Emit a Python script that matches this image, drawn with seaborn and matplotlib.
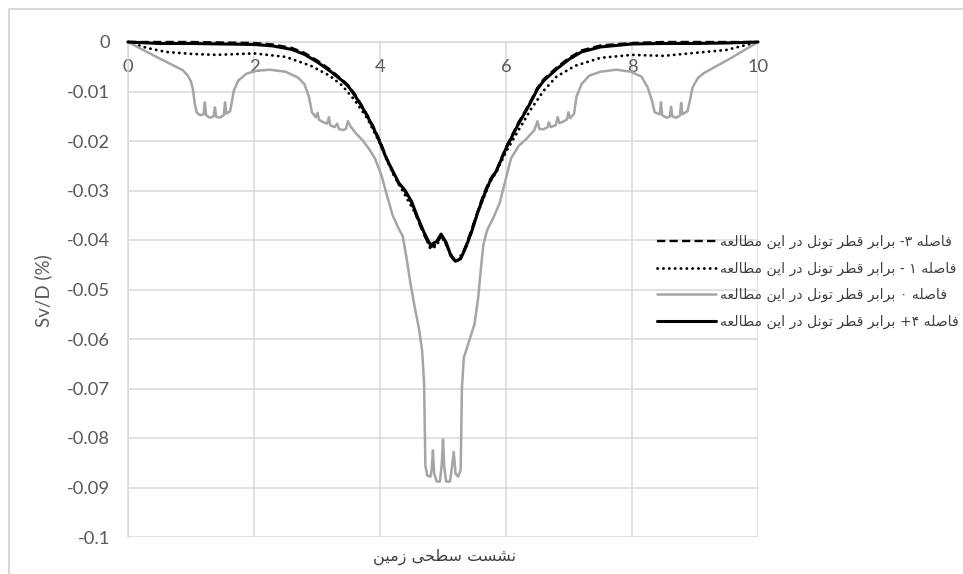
import matplotlib
matplotlib.use('Agg')
import matplotlib.pyplot as plt
import matplotlib.patches as patches
import seaborn as sns

## --- dados (x = distancia, y = Sv/D em %)

# fila de +4 diametros (linha preta continua)
x_mais4 = [0, 0.5, 1.0, 1.5, 2.0, 2.3, 2.6, 2.8, 3.0, 3.2,
           3.4, 3.5, 3.6, 3.7, 3.8, 3.9, 4.0, 4.1, 4.2, 4.3,
           4.4, 4.5, 4.6, 4.7, 4.8, 4.9, 4.97, 5.05, 5.12, 5.2,
           5.28, 5.36, 5.45, 5.55, 5.65, 5.75, 5.85, 6.0, 6.1, 6.2,
           6.3, 6.4, 6.5, 6.6, 6.8, 7.0, 7.2, 7.5, 8.0, 8.5,
           9.0, 9.5, 10]
y_mais4 = [0, -0.0003, -0.0003, -0.0004, -0.0005, -0.0008, -0.0015, -0.0025, -0.004, -0.0058,
           -0.0078, -0.009, -0.0108, -0.0128, -0.015, -0.0175, -0.0203, -0.0235, -0.026, -0.0285,
           -0.030, -0.0322, -0.0355, -0.0385, -0.041, -0.0403, -0.0388, -0.0405, -0.043, -0.0443,
           -0.0438, -0.0415, -0.0385, -0.0345, -0.031, -0.028, -0.026, -0.0215, -0.019, -0.0165,
           -0.0143, -0.012, -0.0095, -0.0078, -0.0055, -0.0035, -0.002, -0.001, -0.0004, -0.0003,
           -0.0003, -0.0002, 0]

# fila de -3 diametros (tracejada)
x_menos3 = x_mais4
y_menos3 = [0, 0, 0, -0.0001, -0.0002, -0.0005, -0.0012, -0.0022, -0.0037, -0.0055,
            -0.0076, -0.0088, -0.0105, -0.0126, -0.0148, -0.0172, -0.02, -0.0232, -0.0262, -0.0288,
            -0.0303, -0.0325, -0.036, -0.039, -0.0415, -0.0408, -0.0392, -0.0408, -0.0432, -0.0445,
            -0.0436, -0.0412, -0.038, -0.0342, -0.0305, -0.0277, -0.0258, -0.0212, -0.0187, -0.0162,
            -0.014, -0.0117, -0.0092, -0.0075, -0.0052, -0.0032, -0.0017, -0.0007, -0.0002, 0,
            0, 0, 0]

# fila de -1 diametro (pontilhada)
x_menos1 = [0, 0.3, 0.6, 1.0, 1.4, 2.0, 2.5, 2.9, 3.2, 3.4,
            3.6, 3.8, 4.0, 4.2, 4.4, 4.6, 4.8, 4.9, 4.97, 5.05,
            5.2, 5.36, 5.55, 5.75, 5.85, 6.0, 6.2, 6.4, 6.6, 6.8,
            7.1, 7.5, 8.0, 8.5, 9.0, 9.5, 10]
y_menos1 = [0, -0.0012, -0.002, -0.0024, -0.0026, -0.0023, -0.003, -0.0048, -0.0068, -0.0088,
            -0.0118, -0.0155, -0.0205, -0.0265, -0.031, -0.0355, -0.0418, -0.0412, -0.0392, -0.041,
            -0.0446, -0.0418, -0.0345, -0.0282, -0.0262, -0.0222, -0.0178, -0.0135, -0.0098, -0.007,
            -0.0048, -0.0032, -0.0026, -0.0028, -0.0022, -0.0016, 0]

# fila de 0 diametro (cinza)
x_zero = [0, 0.45, 0.87, 0.95, 1.0, 1.03, 1.06, 1.09, 1.14, 1.2,
          1.22, 1.24, 1.3, 1.36, 1.38, 1.4, 1.46, 1.52, 1.54, 1.56,
          1.62, 1.65, 1.68, 1.75, 1.88, 2.05, 2.25, 2.5, 2.7, 2.8,
          2.87, 2.92, 2.98, 3.01, 3.03, 3.1, 3.16, 3.19, 3.21, 3.28,
          3.32, 3.35, 3.42, 3.46, 3.49, 3.53, 3.62, 3.72, 3.82, 3.92,
          4.02, 4.1, 4.2, 4.3, 4.36, 4.42, 4.48, 4.55, 4.62, 4.67,
          4.7, 4.71, 4.72, 4.75, 4.8, 4.82, 4.84, 4.86, 4.9, 4.95,
          4.98, 5.0, 5.02, 5.05, 5.11, 5.14, 5.17, 5.2, 5.24, 5.28,
          5.29, 5.3, 5.33, 5.4, 5.5, 5.56, 5.6, 5.64, 5.7, 5.8,
          5.9, 6.0, 6.08, 6.2, 6.33, 6.45, 6.5, 6.53, 6.6, 6.66,
          6.68, 6.71, 6.79, 6.82, 6.85, 6.92, 6.97, 6.99, 7.02, 7.08,
          7.12, 7.2, 7.32, 7.5, 7.75, 7.98, 8.15, 8.25, 8.32, 8.36,
          8.44, 8.46, 8.48, 8.55, 8.6, 8.62, 8.64, 8.7, 8.76, 8.78,
          8.8, 8.88, 8.92, 8.96, 9.05, 9.15, 9.55, 10]
y_zero = [0, -0.003, -0.0057, -0.0068, -0.008, -0.0095, -0.0125, -0.0142, -0.0148, -0.0146,
          -0.0122, -0.0148, -0.0153, -0.015, -0.0132, -0.0151, -0.0153, -0.0148, -0.0122, -0.0145,
          -0.014, -0.012, -0.0098, -0.0078, -0.0064, -0.0058, -0.0056, -0.006, -0.0072, -0.0085,
          -0.011, -0.0142, -0.0152, -0.0143, -0.0157, -0.0162, -0.0165, -0.0152, -0.0168, -0.0172,
          -0.0165, -0.0176, -0.0178, -0.0175, -0.016, -0.017, -0.0185, -0.0198, -0.0215, -0.0235,
          -0.0268, -0.0305, -0.035, -0.0378, -0.0392, -0.0435, -0.0485, -0.0535, -0.058, -0.0625,
          -0.069, -0.078, -0.0855, -0.0876, -0.0878, -0.0865, -0.0825, -0.0872, -0.0888, -0.0888,
          -0.0855, -0.0803, -0.0858, -0.0888, -0.0888, -0.0862, -0.0828, -0.0872, -0.0878, -0.0865,
          -0.079, -0.07, -0.0638, -0.061, -0.057, -0.0515, -0.046, -0.041, -0.038, -0.0355,
          -0.0325, -0.0275, -0.0235, -0.021, -0.0195, -0.0178, -0.016, -0.0176, -0.0176, -0.0172,
          -0.0162, -0.0172, -0.0168, -0.0152, -0.0164, -0.016, -0.0156, -0.0142, -0.0154, -0.0145,
          -0.011, -0.0085, -0.0068, -0.006, -0.0056, -0.006, -0.007, -0.0092, -0.012, -0.0142,
          -0.0146, -0.0122, -0.0148, -0.0153, -0.0151, -0.0131, -0.015, -0.0153, -0.0149, -0.0123,
          -0.0146, -0.014, -0.0118, -0.0092, -0.0072, -0.0062, -0.0034, 0]

x_ticks = [0, 2, 4, 6, 8, 10]
x_tick_labels = ['0', '2', '4', '6', '8', '10']
y_ticks = [0, -0.01, -0.02, -0.03, -0.04, -0.05, -0.06, -0.07, -0.08, -0.09, -0.1]
y_tick_labels = ['0', '-0.01', '-0.02', '-0.03', '-0.04', '-0.05',
                 '-0.06', '-0.07', '-0.08', '-0.09', '-0.1']

legenda = ['فاصله ۳- برابر قطر تونل در این مطالعه',
           'فاصله ۱ - برابر قطر تونل در این مطالعه',
           'فاصله ۰ برابر قطر تونل در این مطالعه',
           'فاصله ۴+ برابر قطر تونل در این مطالعه']
titulo_x = 'نشست سطحی زمین'
titulo_y = 'Sv/D (%)'


## --- matplotlib nao junta as letras persas, entao faco a forma na mao
FORMAS = {
    'ا': ('\uFE8D', '\uFE8E', '\uFE8D', '\uFE8E'),
    'ب': ('\uFE8F', '\uFE90', '\uFE91', '\uFE92'),
    'ت': ('\uFE95', '\uFE96', '\uFE97', '\uFE98'),
    'ح': ('\uFEA1', '\uFEA2', '\uFEA3', '\uFEA4'),
    'د': ('\uFEA9', '\uFEAA', '\uFEA9', '\uFEAA'),
    'ر': ('\uFEAD', '\uFEAE', '\uFEAD', '\uFEAE'),
    'ز': ('\uFEAF', '\uFEB0', '\uFEAF', '\uFEB0'),
    'س': ('\uFEB1', '\uFEB2', '\uFEB3', '\uFEB4'),
    'ش': ('\uFEB5', '\uFEB6', '\uFEB7', '\uFEB8'),
    'ص': ('\uFEB9', '\uFEBA', '\uFEBB', '\uFEBC'),
    'ط': ('\uFEC1', '\uFEC2', '\uFEC3', '\uFEC4'),
    'ع': ('\uFEC9', '\uFECA', '\uFECB', '\uFECC'),
    'ف': ('\uFED1', '\uFED2', '\uFED3', '\uFED4'),
    'ق': ('\uFED5', '\uFED6', '\uFED7', '\uFED8'),
    'ل': ('\uFEDD', '\uFEDE', '\uFEDF', '\uFEE0'),
    'م': ('\uFEE1', '\uFEE2', '\uFEE3', '\uFEE4'),
    'ن': ('\uFEE5', '\uFEE6', '\uFEE7', '\uFEE8'),
    'ه': ('\uFEE9', '\uFEEA', '\uFEEB', '\uFEEC'),
    'و': ('\uFEED', '\uFEEE', '\uFEED', '\uFEEE'),
    '\u06CC': ('\uFBFC', '\uFBFD', '\uFBFE', '\uFBFF'),
}
SO_DIREITA = set('ادرزو')


def persa(texto):
    texto = texto.replace('\u064A', '\u06CC')
    saida = []
    for i, c in enumerate(texto):
        if c not in FORMAS:
            saida.append(c)
            continue
        ant = texto[i - 1] if i > 0 else ''
        prox = texto[i + 1] if i + 1 < len(texto) else ''
        liga_ant = ant in FORMAS and ant not in SO_DIREITA
        liga_prox = prox in FORMAS and c not in SO_DIREITA
        iso, fim, ini, meio = FORMAS[c]
        if liga_ant and liga_prox:
            saida.append(meio)
        elif liga_ant:
            saida.append(fim)
        elif liga_prox:
            saida.append(ini)
        else:
            saida.append(iso)
    return ''.join(reversed(saida))


## --- grafico
sns.set_style('white')
plt.rcParams['font.family'] = ['Lato', 'DejaVu Sans']

W, H = 963, 574
fig = plt.figure(figsize=(W / 100, H / 100), dpi=100)
ax = fig.add_axes([128 / W, 1 - 537 / H, (758 - 128) / W, (537 - 42) / H])

cinza_grade = '#d9d9d9'
cinza_texto = '#595959'

l_tracejada = sns.lineplot(x=x_menos3, y=y_menos3, ax=ax, color='black', lw=1.7,
                           linestyle=(0, (3.5, 1.8)), clip_on=False, zorder=3).get_lines()[-1]
l_ponto = sns.lineplot(x=x_menos1, y=y_menos1, ax=ax, color='black', lw=2.0,
                       linestyle=(0, (0.1, 2.0)), dash_capstyle='round',
                       clip_on=False, zorder=3).get_lines()[-1]
l_cinza = sns.lineplot(x=x_zero, y=y_zero, ax=ax, color='#a5a5a5', lw=1.8,
                       clip_on=False, zorder=3).get_lines()[-1]
l_preta = sns.lineplot(x=x_mais4, y=y_mais4, ax=ax, color='black', lw=2.2,
                       clip_on=False, zorder=4).get_lines()[-1]

ax.set_xlim(0, 10)
ax.set_ylim(-0.1, 0)
ax.set_xticks(x_ticks)
ax.set_xticklabels(x_tick_labels)
ax.set_yticks(y_ticks)
ax.set_yticklabels(y_tick_labels)
ax.tick_params(axis='both', length=0, labelsize=13.2, labelcolor=cinza_texto)
ax.tick_params(axis='x', pad=12)
ax.tick_params(axis='y', pad=13)
ax.grid(True, color=cinza_grade, lw=1.1)
ax.set_axisbelow(True)

for lado in ['top', 'right']:
    ax.spines[lado].set_visible(False)
ax.spines['bottom'].set_position(('data', 0))
ax.spines['bottom'].set_color(cinza_grade)
ax.spines['left'].set_color(cinza_grade)
ax.spines['bottom'].set_linewidth(1.1)
ax.spines['left'].set_linewidth(1.1)

ax.set_xlabel('')
ax.set_ylabel('')
fig.text(43 / W, 1 - 291 / H, titulo_y, rotation=90, ha='center', va='center',
         fontsize=13.5, color=cinza_texto)
fig.text(445 / W, 1 - 557 / H, persa(titulo_x), ha='center', va='center',
         fontsize=11.5, color='#404040', family=['DejaVu Sans'])

leg = ax.legend([l_tracejada, l_ponto, l_cinza, l_preta], [persa(t) for t in legenda],
                loc='upper left', bbox_to_anchor=(657 / W, 1 - 235 / H),
                bbox_transform=fig.transFigure, frameon=False,
                handlelength=4.2, handletextpad=0.3, labelspacing=0.88,
                borderpad=0, borderaxespad=0,
                prop={'family': ['DejaVu Sans'], 'size': 10.1})
for t in leg.get_texts():
    t.set_color('#404040')

## moldura cinza do grafico original (cortada a direita e embaixo)
fig.patches.append(patches.Rectangle((9 / W, -0.05), 1.1, 1 - 9 / H + 0.05,
                                     transform=fig.transFigure, fill=False,
                                     edgecolor=cinza_grade, lw=1.5))

fig.savefig('out.png', dpi=100)
